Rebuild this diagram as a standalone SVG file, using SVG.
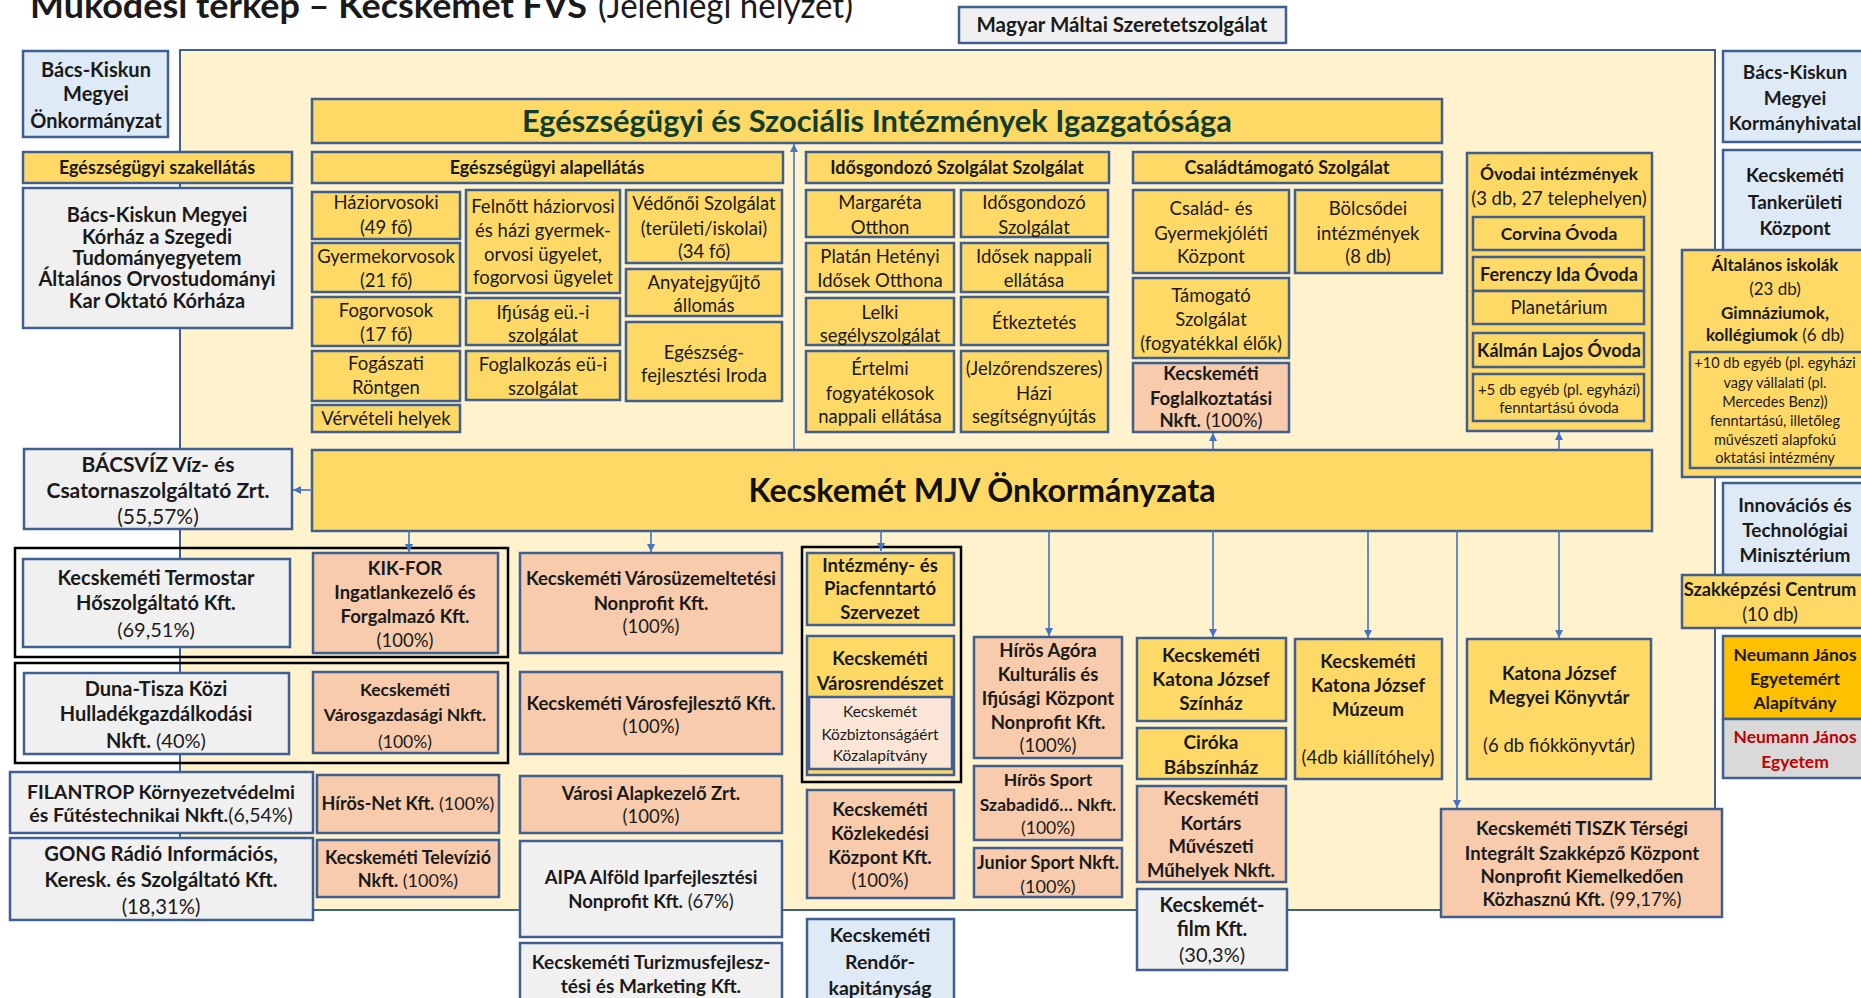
<svg xmlns="http://www.w3.org/2000/svg" width="1861" height="998" viewBox="0 0 1861 998">
<defs>
<style>
.bx{stroke:#3E5F8F;stroke-width:2.5}
.y{fill:#FFD966}.s{fill:#F8CBAD}.g{fill:#F0F0F0}.lb{fill:#DEEBF7}.or{fill:#FFC000}.gr{fill:#D9D9D9}.pk{fill:#FBE5D6}
.grp{fill:none;stroke:#000;stroke-width:2.5}
text{font-family:Lato,'Liberation Sans',sans-serif;fill:#1A1A1A;text-anchor:middle;font-size:18.5px}
.b{font-weight:700}
.n{font-weight:400}
.f14{font-size:14.5px}.f15{font-size:15px}.f155{font-size:15.5px}.f17{font-size:17px}.f175{font-size:17.5px}.f18{font-size:18px}.f19{font-size:19px}.f195{font-size:19.5px}.f20{font-size:20px}.f21{font-size:21px}
.c{stroke:#4472C4;stroke-width:1.6;fill:none;marker-end:url(#ah)}
</style>
<marker id="ah" viewBox="0 0 10 10" refX="10" refY="5" markerWidth="8" markerHeight="10" markerUnits="userSpaceOnUse" orient="auto"><path d="M0,0 L10,5 L0,10 z" fill="#4472C4"/></marker>
</defs>
<rect width="1861" height="998" fill="#fff"/>
<text x="30" y="18" class="b" style="text-anchor:start;font-size:34px" textLength="557" lengthAdjust="spacingAndGlyphs">Működési térkép – Kecskemét FVS</text>
<text x="598" y="18" style="text-anchor:start;font-size:34px" textLength="255" lengthAdjust="spacingAndGlyphs">(Jelenlegi helyzet)</text>

<g id="container"><rect x="180" y="50" width="1535" height="860" fill="#FFF2CC" class="bx" style="stroke-width:2"/></g>

<g id="n-maltai"><rect x="959" y="7" width="327" height="36" class="bx g"/><text x="1122" y="32" class="b" style="font-size:20.5px">Magyar Máltai Szeretetszolgálat</text></g>

<g id="n-bkmo"><rect x="23" y="51" width="145" height="86" class="bx lb"/><text class="b f20"><tspan x="96" y="77">Bács-Kiskun</tspan><tspan x="96" y="101">Megyei</tspan><tspan x="96" y="128">Önkormányzat</tspan></text></g>
<g id="n-szak"><rect x="23" y="152" width="269" height="31" class="bx y"/><text x="157" y="174" class="b f18">Egészségügyi szakellátás</text></g>
<g id="n-korhaz"><rect x="23" y="188" width="269" height="140" class="bx g"/><text class="b f20"><tspan x="157" y="222">Bács-Kiskun Megyei</tspan><tspan x="157" y="244">Kórház a Szegedi</tspan><tspan x="157" y="265">Tudományegyetem</tspan><tspan x="157" y="286">Általános Orvostudományi</tspan><tspan x="157" y="308">Kar Oktató Kórháza</tspan></text></g>

<g id="n-igazg"><rect x="312" y="99" width="1130" height="44" class="bx y"/><text x="877" y="132" class="b" style="font-size:30px;fill:#113D2C" textLength="710" lengthAdjust="spacingAndGlyphs">Egészségügyi és Szociális Intézmények Igazgatósága</text></g>

<g id="n-alap"><rect x="312" y="152" width="471" height="31" class="bx y"/><text x="547" y="174" class="b f18">Egészségügyi alapellátás</text></g>
<g id="n-hazi"><rect x="312" y="192" width="148" height="47" class="bx y"/><text><tspan x="386" y="209">Háziorvosoki</tspan><tspan x="386" y="234">(49 fő)</tspan></text></g>
<g id="n-gyermek"><rect x="312" y="243" width="148" height="49" class="bx y"/><text><tspan x="386" y="263">Gyermekorvosok</tspan><tspan x="386" y="287">(21 fő)</tspan></text></g>
<g id="n-fogorv"><rect x="312" y="297" width="148" height="49" class="bx y"/><text><tspan x="386" y="317">Fogorvosok</tspan><tspan x="386" y="341">(17 fő)</tspan></text></g>
<g id="n-fogasz"><rect x="312" y="351" width="148" height="50" class="bx y"/><text><tspan x="386" y="370">Fogászati</tspan><tspan x="386" y="394">Röntgen</tspan></text></g>
<g id="n-verv"><rect x="312" y="405" width="148" height="27" class="bx y"/><text x="386" y="425">Vérvételi helyek</text></g>
<g id="n-felnott"><rect x="466" y="190" width="154" height="103" class="bx y"/><text><tspan x="543" y="213">Felnőtt háziorvosi</tspan><tspan x="543" y="237">és házi gyermek-</tspan><tspan x="543" y="261">orvosi ügyelet,</tspan><tspan x="543" y="284">fogorvosi ügyelet</tspan></text></g>
<g id="n-ifjusag"><rect x="466" y="298" width="154" height="47" class="bx y"/><text><tspan x="543" y="319">Ifjúság eü.-i</tspan><tspan x="543" y="342">szolgálat</tspan></text></g>
<g id="n-foglalk"><rect x="466" y="351" width="154" height="49" class="bx y"/><text><tspan x="543" y="371">Foglalkozás eü-i</tspan><tspan x="543" y="395">szolgálat</tspan></text></g>
<g id="n-vedono"><rect x="626" y="190" width="156" height="73" class="bx y"/><text><tspan x="704" y="210">Védőnői Szolgálat</tspan><tspan x="704" y="235">(területi/iskolai)</tspan><tspan x="704" y="258">(34 fő)</tspan></text></g>
<g id="n-anyatej"><rect x="626" y="269" width="156" height="47" class="bx y"/><text><tspan x="704" y="289">Anyatejgyűjtő</tspan><tspan x="704" y="312">állomás</tspan></text></g>
<g id="n-egfejl"><rect x="626" y="322" width="156" height="79" class="bx y"/><text><tspan x="704" y="359">Egészség-</tspan><tspan x="704" y="382">fejlesztési Iroda</tspan></text></g>

<g id="n-idos"><rect x="806" y="152" width="303" height="31" class="bx y"/><text x="957" y="174" class="b f18">Idősgondozó Szolgálat Szolgálat</text></g>
<g id="n-margareta"><rect x="806" y="190" width="148" height="47" class="bx y"/><text><tspan x="880" y="209">Margaréta</tspan><tspan x="880" y="234">Otthon</tspan></text></g>
<g id="n-platan"><rect x="806" y="243" width="148" height="49" class="bx y"/><text><tspan x="880" y="263">Platán Hetényi</tspan><tspan x="880" y="287">Idősek Otthona</tspan></text></g>
<g id="n-lelki"><rect x="806" y="298" width="148" height="47" class="bx y"/><text><tspan x="880" y="319">Lelki</tspan><tspan x="880" y="342">segélyszolgálat</tspan></text></g>
<g id="n-ertelmi"><rect x="806" y="351" width="148" height="81" class="bx y"/><text><tspan x="880" y="375">Értelmi</tspan><tspan x="880" y="400">fogyatékosok</tspan><tspan x="880" y="423">nappali ellátása</tspan></text></g>
<g id="n-idosg"><rect x="961" y="190" width="147" height="47" class="bx y"/><text><tspan x="1034" y="209">Idősgondozó</tspan><tspan x="1034" y="234">Szolgálat</tspan></text></g>
<g id="n-idosnap"><rect x="961" y="243" width="147" height="49" class="bx y"/><text><tspan x="1034" y="263">Idősek nappali</tspan><tspan x="1034" y="287">ellátása</tspan></text></g>
<g id="n-etkez"><rect x="961" y="297" width="147" height="48" class="bx y"/><text x="1034" y="329">Étkeztetés</text></g>
<g id="n-jelzo"><rect x="961" y="351" width="147" height="81" class="bx y"/><text><tspan x="1034" y="375">(Jelzőrendszeres)</tspan><tspan x="1034" y="400">Házi</tspan><tspan x="1034" y="423">segítségnyújtás</tspan></text></g>

<g id="n-csal"><rect x="1133" y="152" width="309" height="31" class="bx y"/><text x="1287" y="174" class="b f18">Családtámogató Szolgálat</text></g>
<g id="n-cskp"><rect x="1133" y="190" width="156" height="83" class="bx y"/><text><tspan x="1211" y="215">Család- és</tspan><tspan x="1211" y="240">Gyermekjóléti</tspan><tspan x="1211" y="263">Központ</tspan></text></g>
<g id="n-bolcs"><rect x="1295" y="190" width="147" height="83" class="bx y"/><text><tspan x="1368" y="215">Bölcsődei</tspan><tspan x="1368" y="240">intézmények</tspan><tspan x="1368" y="263">(8 db)</tspan></text></g>
<g id="n-tamog"><rect x="1133" y="278" width="156" height="80" class="bx y"/><text><tspan x="1211" y="302">Támogató</tspan><tspan x="1211" y="326">Szolgálat</tspan><tspan x="1211" y="350">(fogyatékkal élők)</tspan></text></g>
<g id="n-foglalkoztatasi"><rect x="1133" y="363" width="156" height="69" class="bx s"/><text class="b"><tspan x="1211" y="380">Kecskeméti</tspan><tspan x="1211" y="405">Foglalkoztatási</tspan><tspan x="1211" y="427">Nkft.<tspan class="n"> (100%)</tspan></tspan></text></g>

<g id="n-ovodai"><rect x="1467" y="153" width="185" height="278" class="bx y"/><text x="1559" y="180" class="b" style="font-size:17.3px">Óvodai intézmények</text><text x="1559" y="205">(3 db, 27 telephelyen)</text>
<rect x="1473" y="217" width="171" height="33" class="bx y"/><text x="1559" y="240" class="b f175">Corvina Óvoda</text>
<rect x="1473" y="257" width="171" height="34" class="bx y"/><text x="1559" y="281" class="b f18">Ferenczy Ida Óvoda</text>
<rect x="1473" y="291" width="171" height="33" class="bx y"/><text x="1559" y="314">Planetárium</text>
<rect x="1473" y="333" width="171" height="34" class="bx y"/><text x="1559" y="357" class="b f18">Kálmán Lajos Óvoda</text>
<rect x="1473" y="374" width="171" height="47" class="bx y"/><text class="f15"><tspan x="1559" y="395">+5 db egyéb (pl. egyházi)</tspan><tspan x="1559" y="413">fenntartású óvoda</tspan></text></g>

<g id="n-kormany"><rect x="1723" y="51" width="150" height="91" class="bx lb"/><text class="b f19"><tspan x="1795" y="79">Bács-Kiskun</tspan><tspan x="1795" y="105">Megyei</tspan><tspan x="1795" y="130">Kormányhivatal</tspan></text></g>
<g id="n-tanker"><rect x="1723" y="150" width="150" height="110" class="bx lb"/><text class="b f19"><tspan x="1795" y="182">Kecskeméti</tspan><tspan x="1795" y="209">Tankerületi</tspan><tspan x="1795" y="235">Központ</tspan></text></g>
<g id="n-altal"><rect x="1682" y="250" width="185" height="227" class="bx y"/><text class="f17"><tspan x="1775" y="271" class="b">Általános iskolák</tspan><tspan x="1775" y="295">(23 db)</tspan><tspan x="1775" y="319" class="b">Gimnáziumok,</tspan><tspan x="1775" y="341"><tspan class="b">kollégiumok</tspan> (6 db)</tspan></text>
<rect x="1690" y="352" width="175" height="116" class="bx y"/><text class="f14"><tspan x="1775" y="368">+10 db egyéb (pl. egyházi</tspan><tspan x="1775" y="388">vagy vállalati (pl.</tspan><tspan x="1775" y="407">Mercedes Benz))</tspan><tspan x="1775" y="426">fenntartású, illetőleg</tspan><tspan x="1775" y="445">művészeti alapfokú</tspan><tspan x="1775" y="463">oktatási intézmény</tspan></text></g>
<g id="n-innov"><rect x="1723" y="483" width="150" height="92" class="bx lb"/><text class="b f19"><tspan x="1795" y="512">Innovációs és</tspan><tspan x="1795" y="537">Technológiai</tspan><tspan x="1795" y="562">Minisztérium</tspan></text></g>
<g id="n-szakk"><rect x="1682" y="575" width="185" height="53" class="bx y"/><text style="font-size:18.3px"><tspan x="1770" y="596" class="b">Szakképzési Centrum</tspan><tspan x="1770" y="621">(10 db)</tspan></text></g>
<g id="n-neumalap"><rect x="1723" y="636" width="150" height="83" class="bx or"/><text class="b f175"><tspan x="1795" y="661">Neumann János</tspan><tspan x="1795" y="685">Egyetemért</tspan><tspan x="1795" y="709">Alapítvány</tspan></text></g>
<g id="n-neumegy"><rect x="1723" y="719" width="150" height="59" class="bx gr"/><text class="b f175" style="fill:#C00000"><tspan x="1795" y="743">Neumann János</tspan><tspan x="1795" y="768">Egyetem</tspan></text></g>

<g id="n-mjv"><rect x="312" y="450" width="1340" height="81" class="bx y"/><text x="982" y="502" class="b" style="font-size:33px;fill:#111" textLength="467" lengthAdjust="spacingAndGlyphs">Kecskemét MJV Önkormányzata</text></g>

<g id="n-bacsviz"><rect x="24" y="449" width="268" height="80" class="bx g"/><text class="f21"><tspan x="158" y="472" class="b">BÁCSVÍZ Víz- és</tspan><tspan x="158" y="498" class="b">Csatornaszolgáltató Zrt.</tspan><tspan x="158" y="524">(55,57%)</tspan></text></g>

<g id="grp1"><rect x="15" y="548" width="493" height="109" class="grp"/></g>
<g id="n-termostar"><rect x="23" y="559" width="267" height="88" class="bx g"/><text class="f20"><tspan x="156" y="585" class="b">Kecskeméti Termostar</tspan><tspan x="156" y="610" class="b">Hőszolgáltató Kft.</tspan><tspan x="156" y="637">(69,51%)</tspan></text></g>
<g id="n-kikfor"><rect x="313" y="553" width="185" height="100" class="bx s"/><text><tspan x="405" y="575" class="b">KIK-FOR</tspan><tspan x="405" y="599" class="b">Ingatlankezelő és</tspan><tspan x="405" y="623" class="b">Forgalmazó Kft.</tspan><tspan x="405" y="647">(100%)</tspan></text></g>

<g id="grp2"><rect x="15" y="663" width="493" height="100" class="grp"/></g>
<g id="n-duna"><rect x="24" y="673" width="265" height="81" class="bx g"/><text class="f20"><tspan x="156" y="696" class="b">Duna-Tisza Közi</tspan><tspan x="156" y="721" class="b">Hulladékgazdálkodási</tspan><tspan x="156" y="748"><tspan class="b">Nkft.</tspan> (40%)</tspan></text></g>
<g id="n-varosgazd"><rect x="313" y="672" width="185" height="81" class="bx s"/><text class="f175"><tspan x="405" y="696" class="b">Kecskeméti</tspan><tspan x="405" y="721" class="b">Városgazdasági Nkft.</tspan><tspan x="405" y="748">(100%)</tspan></text></g>

<g id="n-filantrop"><rect x="10" y="772" width="303" height="61" class="bx g"/><text class="f195"><tspan x="161" y="799" class="b">FILANTROP Környezetvédelmi</tspan><tspan x="161" y="822"><tspan class="b">és Fűtéstechnikai Nkft.</tspan>(6,54%)</tspan></text></g>
<g id="n-hirosnet"><rect x="317" y="775" width="182" height="58" class="bx s"/><text x="408" y="810" class="f18"><tspan class="b">Hírös-Net Kft.</tspan> (100%)</text></g>
<g id="n-gong"><rect x="10" y="838" width="303" height="82" class="bx g"/><text style="font-size:20.3px"><tspan x="161" y="861" class="b">GONG Rádió Információs,</tspan><tspan x="161" y="887" class="b">Keresk. és Szolgáltató Kft.</tspan><tspan x="161" y="914">(18,31%)</tspan></text></g>
<g id="n-telev"><rect x="317" y="840" width="182" height="57" class="bx s"/><text class="f18"><tspan x="408" y="864" class="b">Kecskeméti Televízió</tspan><tspan x="408" y="887"><tspan class="b">Nkft.</tspan> (100%)</tspan></text></g>

<g id="n-varosuz"><rect x="520" y="553" width="262" height="100" class="bx s"/><text><tspan x="651" y="585" class="b">Kecskeméti Városüzemeltetési</tspan><tspan x="651" y="610" class="b">Nonprofit Kft.</tspan><tspan x="651" y="633">(100%)</tspan></text></g>
<g id="n-varosfejl"><rect x="520" y="672" width="262" height="82" class="bx s"/><text><tspan x="651" y="710" class="b">Kecskeméti Városfejlesztő Kft.</tspan><tspan x="651" y="733">(100%)</tspan></text></g>
<g id="n-alapkez"><rect x="520" y="776" width="262" height="57" class="bx s"/><text><tspan x="651" y="800" class="b">Városi Alapkezelő Zrt.</tspan><tspan x="651" y="823">(100%)</tspan></text></g>
<g id="n-aipa"><rect x="520" y="841" width="262" height="96" class="bx g"/><text><tspan x="651" y="884" class="b">AIPA Alföld Iparfejlesztési</tspan><tspan x="651" y="908"><tspan class="b">Nonprofit Kft.</tspan> (67%)</tspan></text></g>
<g id="n-turizmus"><rect x="520" y="943" width="262" height="60" class="bx g"/><text class="b f19"><tspan x="651" y="969">Kecskeméti Turizmusfejlesz-</tspan><tspan x="651" y="993">tési és Marketing Kft.</tspan></text></g>

<g id="grp3"><rect x="802" y="547" width="159" height="235" class="grp"/></g>
<g id="n-intezmeny"><rect x="807" y="553" width="147" height="72" class="bx y"/><text class="b"><tspan x="880" y="572">Intézmény- és</tspan><tspan x="880" y="595">Piacfenntartó</tspan><tspan x="880" y="619">Szervezet</tspan></text></g>
<g id="n-varosrend"><rect x="807" y="636" width="147" height="139" class="bx y"/><text class="b"><tspan x="880" y="665">Kecskeméti</tspan><tspan x="880" y="690">Városrendészet</tspan></text>
<rect x="809" y="697" width="143" height="72" class="bx pk"/><text class="f155"><tspan x="880" y="717">Kecskemét</tspan><tspan x="880" y="740">Közbiztonságáért</tspan><tspan x="880" y="761">Közalapítvány</tspan></text></g>
<g id="n-kozlek"><rect x="807" y="790" width="147" height="108" class="bx s"/><text><tspan x="880" y="816" class="b">Kecskeméti</tspan><tspan x="880" y="840" class="b">Közlekedési</tspan><tspan x="880" y="864" class="b">Központ Kft.</tspan><tspan x="880" y="887">(100%)</tspan></text></g>
<g id="n-rendor"><rect x="807" y="919" width="147" height="90" class="bx lb"/><text class="b f195"><tspan x="880" y="942">Kecskeméti</tspan><tspan x="880" y="969">Rendőr-</tspan><tspan x="880" y="995">kapitányság</tspan></text></g>

<g id="n-agora"><rect x="974" y="637" width="148" height="121" class="bx s"/><text><tspan x="1048" y="657" class="b">Hírös Agóra</tspan><tspan x="1048" y="681" class="b">Kulturális és</tspan><tspan x="1048" y="705" class="b">Ifjúsági Központ</tspan><tspan x="1048" y="729" class="b">Nonprofit Kft.</tspan><tspan x="1048" y="752">(100%)</tspan></text></g>
<g id="n-hsport"><rect x="974" y="766" width="148" height="74" class="bx s"/><text class="f175"><tspan x="1048" y="786" class="b">Hírös Sport</tspan><tspan x="1048" y="811" class="b">Szabadidő… Nkft.</tspan><tspan x="1048" y="834">(100%)</tspan></text></g>
<g id="n-junior"><rect x="974" y="848" width="148" height="49" class="bx s"/><text class="f18"><tspan x="1048" y="869" class="b">Junior Sport Nkft.</tspan><tspan x="1048" y="893">(100%)</tspan></text></g>

<g id="n-szinhaz"><rect x="1137" y="638" width="149" height="83" class="bx y"/><text class="b f19"><tspan x="1211" y="662">Kecskeméti</tspan><tspan x="1211" y="686">Katona József</tspan><tspan x="1211" y="710">Színház</tspan></text></g>
<g id="n-ciroka"><rect x="1137" y="728" width="149" height="51" class="bx y"/><text class="b f19"><tspan x="1211" y="749">Ciróka</tspan><tspan x="1211" y="774">Bábszínház</tspan></text></g>
<g id="n-kortars"><rect x="1137" y="786" width="149" height="96" class="bx s"/><text class="b"><tspan x="1211" y="805">Kecskeméti</tspan><tspan x="1211" y="830">Kortárs</tspan><tspan x="1211" y="853">Művészeti</tspan><tspan x="1211" y="877">Műhelyek Nkft.</tspan></text></g>
<g id="n-film"><rect x="1137" y="889" width="150" height="81" class="bx g"/><text class="f20"><tspan x="1212" y="912" class="b">Kecskemét-</tspan><tspan x="1212" y="936" class="b">film Kft.</tspan><tspan x="1212" y="962">(30,3%)</tspan></text></g>

<g id="n-muzeum"><rect x="1295" y="639" width="147" height="140" class="bx y"/><text><tspan x="1368" y="668" class="b">Kecskeméti</tspan><tspan x="1368" y="692" class="b">Katona József</tspan><tspan x="1368" y="716" class="b">Múzeum</tspan><tspan x="1368" y="764">(4db kiállítóhely)</tspan></text></g>
<g id="n-konyvtar"><rect x="1467" y="639" width="184" height="140" class="bx y"/><text><tspan x="1559" y="680" class="b">Katona József</tspan><tspan x="1559" y="704" class="b">Megyei Könyvtár</tspan><tspan x="1559" y="752">(6 db fiókkönyvtár)</tspan></text></g>
<g id="n-tiszk"><rect x="1441" y="809" width="281" height="108" class="bx s"/><text><tspan x="1582" y="835" class="b">Kecskeméti TISZK Térségi</tspan><tspan x="1582" y="860" class="b">Integrált Szakképző Központ</tspan><tspan x="1582" y="883" class="b">Nonprofit Kiemelkedően</tspan><tspan x="1582" y="906"><tspan class="b">Közhasznú Kft.</tspan> (99,17%)</tspan></text></g>

<g id="connectors">
<line x1="794" y1="450" x2="794" y2="144" class="c"/>
<line x1="312" y1="490" x2="293" y2="490" class="c"/>
<line x1="409" y1="531" x2="409" y2="552" class="c"/>
<line x1="651" y1="531" x2="651" y2="552" class="c"/>
<line x1="881" y1="531" x2="881" y2="551" class="c"/>
<line x1="1049" y1="531" x2="1049" y2="636" class="c"/>
<line x1="1213" y1="531" x2="1213" y2="637" class="c"/>
<line x1="1368" y1="531" x2="1368" y2="638" class="c"/>
<line x1="1457" y1="531" x2="1457" y2="808" class="c"/>
<line x1="1559" y1="531" x2="1559" y2="638" class="c"/>
<line x1="1213" y1="450" x2="1213" y2="433" class="c"/>
<line x1="1559" y1="450" x2="1559" y2="432" class="c"/>
</g>
</svg>
